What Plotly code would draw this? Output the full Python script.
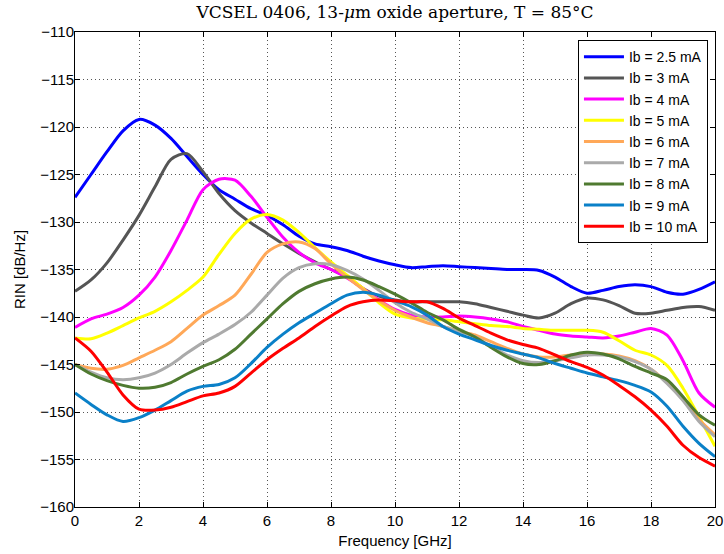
import plotly.graph_objects as go

freq = [i * 0.5 for i in range(41)]

labels = ["Ib = 2.5 mA", "Ib = 3 mA", "Ib = 4 mA", "Ib = 5 mA", "Ib = 6 mA",
          "Ib = 7 mA", "Ib = 8 mA", "Ib = 9 mA", "Ib = 10 mA"]
colors = ["#0000FF", "#555555", "#FF00FF", "#FFFF00", "#FFA858",
          "#AAAAAA", "#4F7A30", "#0A80C8", "#FF0000"]

rin_2p5 = [-127.4, -125.0, -122.6, -120.4, -119.2, -119.8, -121.2, -123.1, -125.0, -126.6,
           -127.6, -128.6, -129.3, -130.3, -131.5, -132.3, -132.6, -133.0, -133.6, -134.1,
           -134.5, -134.8, -134.7, -134.6, -134.7, -134.8, -134.9, -135.0, -135.0, -135.1,
           -135.8, -136.8, -137.5, -137.2, -136.8, -136.6, -136.8, -137.4, -137.6, -137.1,
           -136.3]
rin_3 = [-137.3, -136.1, -134.3, -131.9, -129.3, -126.3, -123.4, -122.8, -124.7, -127.0,
         -128.8, -130.1, -131.2, -132.3, -133.3, -134.2, -135.0, -135.8, -137.0, -137.8,
         -138.2, -138.4, -138.4, -138.4, -138.4, -138.6, -139.0, -139.4, -139.8, -140.1,
         -139.6, -138.6, -138.0, -138.2, -138.8, -139.6, -139.6, -139.3, -139.0, -138.9,
         -139.3]
rin_4 = [-141.1, -140.2, -139.7, -139.0, -137.7, -135.8, -133.0, -129.8, -126.6, -125.5,
         -125.6, -127.3, -129.5, -131.6, -133.2, -134.3, -135.0, -135.9, -137.0, -138.2,
         -139.2, -139.8, -140.0, -140.0, -139.9, -140.0, -140.2, -140.5, -141.0, -141.4,
         -141.8, -142.0, -142.1, -142.2, -142.0, -141.6, -141.2, -141.9, -144.6, -148.0,
         -149.5]
rin_5 = [-142.2, -142.3, -141.7, -140.9, -140.1, -139.4, -138.4, -137.2, -135.8, -133.4,
         -131.2, -129.7, -129.2, -129.8, -131.1, -132.7, -134.2, -135.6, -137.0, -138.5,
         -139.7, -140.1, -140.2, -140.3, -140.5, -140.7, -140.9, -141.0, -141.2, -141.3,
         -141.4, -141.4, -141.4, -141.6, -142.5, -143.5, -144.0, -145.1, -147.5, -150.5,
         -153.6]
rin_6 = [-145.0, -145.4, -145.5, -145.1, -144.3, -143.5, -142.6, -141.2, -139.8, -138.8,
         -137.7, -135.5, -133.2, -132.3, -132.1, -132.8, -134.4, -135.8, -137.1, -138.3,
         -139.3, -140.0, -140.6, -141.0, -141.5, -141.9, -142.6, -143.3, -143.9, -144.2,
         -144.2, -144.0, -143.9, -143.9, -144.1, -144.6, -145.5, -146.9, -148.7, -150.8,
         -152.4]
rin_7 = [-145.0, -145.8, -146.4, -146.6, -146.4, -145.9, -145.0, -143.8, -142.7, -141.8,
         -140.8, -139.5, -137.7, -135.9, -134.8, -134.4, -134.5, -135.1, -136.0, -137.2,
         -138.5, -139.5, -140.2, -141.0, -141.5, -142.1, -143.1, -144.0, -144.6, -144.8,
         -144.6, -144.3, -144.0, -144.0, -144.2, -144.7, -145.5, -147.0, -148.8, -151.0,
         -152.6]
rin_8 = [-145.0, -146.0, -146.7, -147.2, -147.5, -147.4, -146.9, -146.0, -145.2, -144.5,
         -143.4, -141.8, -140.2, -138.6, -137.3, -136.5, -136.0, -135.8, -136.1, -136.8,
         -137.6, -138.5, -139.5, -140.3, -141.3, -142.1, -143.2, -144.2, -144.9, -145.0,
         -144.6, -144.0, -143.7, -143.9, -144.4, -145.2, -145.9, -146.6, -148.4, -150.3,
         -151.4]
rin_9 = [-148.0, -149.2, -150.3, -151.0, -150.6, -149.8, -148.8, -147.8, -147.3, -147.1,
         -146.4, -144.9, -143.2, -141.8, -140.6, -139.6, -138.6, -137.7, -137.4, -137.7,
         -138.3, -138.9, -139.8, -141.0, -141.8, -142.4, -143.0, -143.5, -143.9, -144.3,
         -144.9, -145.4, -145.9, -146.3, -146.7, -147.2, -147.9, -149.4, -151.5, -153.3,
         -154.7]
rin_10 = [-142.2, -143.6, -145.8, -148.2, -149.7, -149.8, -149.5, -148.9, -148.3, -148.0,
          -147.3, -145.9, -144.5, -143.3, -142.2, -141.0, -139.9, -138.9, -138.4, -138.2,
          -138.3, -138.4, -138.4, -139.1, -140.1, -140.9, -141.7, -142.4, -142.9, -143.3,
          -144.0, -144.7, -145.3, -146.1, -147.2, -148.4, -149.8, -151.5, -153.5, -154.8,
          -155.7]

series = [rin_2p5, rin_3, rin_4, rin_5, rin_6, rin_7, rin_8, rin_9, rin_10]

fig = go.Figure()
for name, col, ys in zip(labels, colors, series):
    fig.add_trace(go.Scatter(x=freq, y=ys, mode="lines", name=name,
                             line=dict(color=col, width=3, shape="spline", smoothing=0.8)))

sans = "Liberation Sans, Arial, sans-serif"
axis_common = dict(
    showline=True, linecolor="black", linewidth=1, mirror="ticks",
    ticks="inside", ticklen=5, tickcolor="black", tickwidth=1,
    showgrid=True, gridcolor="#555555", griddash="1px,3px", gridwidth=1,
    zeroline=False, automargin=False,
    tickfont=dict(family=sans, size=15, color="black"),
)

fig.update_layout(
    width=724, height=554,
    margin=dict(l=75, r=9, t=32, b=47),
    paper_bgcolor="white", plot_bgcolor="white",
    title=dict(text="VCSEL 0406, 13-<i>μ</i>m oxide aperture, T = 85°C",
               font=dict(family="DejaVu Serif, serif", size=17, color="black"),
               x=0.5, xref="paper", xanchor="center",
               y=1 - 12 / 554, yref="container", yanchor="middle"),
    xaxis=dict(range=[0, 20], dtick=2, tick0=0,
               title=dict(text="Frequency [GHz]", standoff=7,
                          font=dict(family=sans, size=15, color="black")),
               **axis_common),
    yaxis=dict(range=[-160, -110], dtick=5, tick0=-160, ticklabelstandoff=-3,
               title=dict(text="RIN [dB/Hz]", standoff=10,
                          font=dict(family=sans, size=15, color="black")),
               **axis_common),
    legend=dict(x=0.989, xanchor="right", y=0.983, yanchor="top",
                bgcolor="white", bordercolor="black", borderwidth=1,
                font=dict(family=sans, size=14, color="black"),
                itemwidth=40, tracegroupgap=0),
    showlegend=True,
)

fig.write_html("out.html")
